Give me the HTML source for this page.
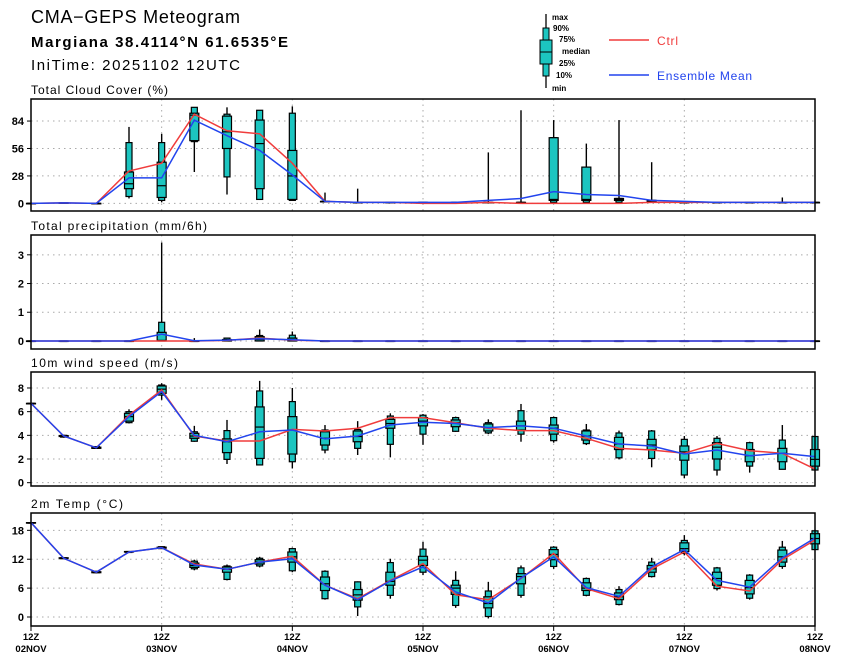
<!DOCTYPE html>
<html><head><meta charset="utf-8">
<style>
html,body{margin:0;padding:0;background:#fff;}
svg{display:block;font-family:"Liberation Sans",sans-serif;}
</style></head>
<body>
<svg id="chart" width="841" height="664" viewBox="0 0 841 664" xmlns="http://www.w3.org/2000/svg">
<text x="31" y="23" font-size="18" textLength="209" lengthAdjust="spacing">CMA−GEPS Meteogram</text>
<text x="31" y="47" font-size="15" font-weight="bold" textLength="257" lengthAdjust="spacing">Margiana 38.4114°N 61.6535°E</text>
<text x="31" y="70" font-size="15" textLength="209" lengthAdjust="spacing">IniTime: 20251102 12UTC</text>
<g>
  <line x1="546" y1="14" x2="546" y2="88" stroke="#000" stroke-width="1.3"/>
  <rect x="543" y="28" width="6" height="48" fill="#1cc5c0" stroke="#000"/>
  <rect x="540" y="40" width="12" height="24" fill="#1cc5c0" stroke="#000"/>
  <line x1="540" y1="52" x2="552" y2="52" stroke="#000"/>
  <g font-size="8" font-weight="bold">
    <text x="552" y="20">max</text><text x="553" y="31">90%</text><text x="559" y="42">75%</text>
    <text x="562" y="54">median</text><text x="559" y="66">25%</text><text x="556" y="78">10%</text><text x="552" y="91">min</text>
  </g>
  <line x1="609" y1="40" x2="649" y2="40" stroke="#f03c3c" stroke-width="1.5"/>
  <text x="657" y="45" font-size="12" fill="#f03c3c" textLength="21" lengthAdjust="spacing">Ctrl</text>
  <line x1="609" y1="75" x2="649" y2="75" stroke="#2244ee" stroke-width="1.5"/>
  <text x="657" y="80" font-size="12" fill="#2244ee" textLength="95" lengthAdjust="spacing">Ensemble Mean</text>
</g>
<g id="plots"></g>
</svg>
<script>
// ---- data (25 time steps, every 6h from 12Z 02NOV) ----
const timeLabels = ["12Z","12Z","12Z","12Z","12Z","12Z","12Z"];
const dateLabels = ["02NOV","03NOV","04NOV","05NOV","06NOV","07NOV","08NOV"];

const cloudMin = [0,0.5,0,5,1,32,9,4,3,2,1,1,1,1,1,1,1,1,1,1,1,1,1,1,1];
const cloudP10 = [0,0.5,0,7,3,63,27,4,3,2,1,1,1,1,1,1,1,1,1,1,1,1,1,1,1];
const cloudP25 = [0,0.5,0,15,6,64,56,15,4,2,1,1,1,1,1,1,3,3,3,2,1,1,1,1,1];
const cloudMed = [0,0.5,0,20,18,90,73,61,28,2,1,1,1,1,1,1,4,4,4,3,1,1,1,1,1];
const cloudP75 = [0,0.5,0,32,42,92,89,85,54,2,1,1,1,1,1,1,67,37,5,3,1,1,1,1,1];
const cloudP90 = [0,0.5,0,62,62,98,91,95,92,2,1,1,1,1,1,1,67,37,5,3,1,1,1,1,1];
const cloudMax = [0,0.5,0,78,71,98,98,95,99,11,15,1,1,1,52,95,85,61,85,42,1,1,1,6,1];
const cloudCtrl = [0,0.5,0,33,41,91,74,71,41,2,1,1,0,0,1,0,0,0,0,1,1,1,1,1,1];
const cloudMean = [0,0.5,0,26,26,85,69,54,29,2,1,1,1,1,3,5,12,9,8,3,2,1,1,1,1];

const precMin = [0,0,0,0,0,0,0,0,0,0,0,0,0,0,0,0,0,0,0,0,0,0,0,0,0];
const precP10 = [0,0,0,0,0,0,0,0,0,0,0,0,0,0,0,0,0,0,0,0,0,0,0,0,0];
const precP25 = [0,0,0,0,0,0,0,0,0,0,0,0,0,0,0,0,0,0,0,0,0,0,0,0,0];
const precMed = [0,0,0,0,0.02,0,0.02,0.05,0.02,0,0,0,0,0,0,0,0,0,0,0,0,0,0,0,0];
const precP75 = [0,0,0,0,0.3,0,0.05,0.15,0.1,0,0,0,0,0,0,0,0,0,0,0,0,0,0,0,0];
const precP90 = [0,0,0,0,0.65,0,0.1,0.19,0.2,0,0,0,0,0,0,0,0,0,0,0,0,0,0,0,0];
const precMax = [0,0,0,0,3.43,0.1,0.12,0.4,0.33,0,0,0,0,0,0,0,0,0,0,0,0,0,0,0,0];
const precCtrl = [0,0,0,0,0,0,0.02,0.1,0.03,0,0,0,0,0,0,0,0,0,0,0,0,0,0,0,0];
const precMean = [0,0,0,0,0.24,0.01,0.03,0.08,0.04,0,0,0,0,0,0,0,0,0,0,0,0,0,0,0,0];

const windMin = [6.7,3.8,2.85,5.0,7.0,3.46,1.58,1.5,1.2,2.48,2.34,2.14,3.2,4.3,4.1,3.46,3.38,3.18,1.97,1.3,0.37,0.6,0.85,1.13,1.07];
const windP10 = [6.7,3.85,2.9,5.07,7.4,3.5,1.97,1.5,1.77,2.76,2.9,3.24,4.1,4.34,4.2,4.1,3.55,3.3,2.1,2.05,0.65,1.07,1.4,1.13,1.07];
const windP25 = [6.7,3.9,2.9,5.2,7.55,3.75,2.54,2.05,2.42,3.18,3.46,4.6,4.8,4.73,4.37,4.45,4.1,3.6,2.8,2.8,1.9,2.0,1.77,1.77,1.4];
const windMed = [6.7,3.94,2.95,5.58,7.9,3.94,3.46,4.7,4.45,3.75,3.9,5.0,5.2,5.07,4.65,4.8,4.6,3.94,3.27,3.18,2.6,3.0,2.28,2.48,1.97];
const windP75 = [6.7,3.98,3.0,5.86,8.17,4.17,3.7,6.4,5.58,4.3,4.37,5.35,5.5,5.3,4.96,5.2,4.87,4.37,3.83,3.66,3.1,3.38,2.8,2.9,2.8];
const windP90 = [6.7,4.0,3.05,6.0,8.25,4.3,4.4,7.75,6.85,4.45,4.5,5.63,5.7,5.5,5.07,6.08,5.5,4.45,4.2,4.37,3.66,3.75,3.38,3.6,3.9];
const windMax = [6.7,4.05,3.05,6.2,8.4,4.8,5.3,8.6,8.0,4.87,5.2,5.86,5.8,5.58,5.35,6.65,5.58,4.96,4.4,4.45,3.94,3.94,3.46,4.87,3.9];
const windCtrl = [6.7,3.94,2.95,5.7,7.83,3.94,3.52,3.52,4.5,4.37,4.6,5.5,5.5,5.07,4.6,4.4,4.4,3.75,2.9,2.76,2.48,3.32,2.7,2.48,1.15];
const windMean = [6.7,3.94,2.95,5.58,7.7,4.0,3.46,4.3,4.45,3.7,3.94,4.87,5.1,5.0,4.65,4.8,4.6,3.94,3.27,3.1,2.42,2.76,2.28,2.48,2.2];

const tempMin = [19.6,12.1,9.1,13.4,14.2,9.7,7.6,10.3,9.3,3.6,0.2,3.8,8.7,1.9,-0.3,4.0,10.0,4.3,2.4,8.2,12.8,5.5,3.6,10.0,14.0];
const tempP10 = [19.6,12.1,9.2,13.4,14.2,10.0,7.8,10.6,9.6,3.8,2.1,4.5,9.3,2.4,0.1,4.5,10.5,4.5,2.6,8.4,13.2,5.9,3.9,10.5,14.0];
const tempP25 = [19.6,12.2,9.2,13.5,14.3,10.3,9.3,11.0,11.4,5.5,3.5,6.6,10.7,4.7,1.9,6.9,11.9,5.5,3.6,9.3,13.6,6.6,4.8,11.4,15.2];
const tempMed = [19.6,12.2,9.3,13.5,14.4,10.7,9.9,11.4,12.5,6.9,4.6,7.4,11.8,6.0,2.8,8.4,13.0,6.0,4.2,10.0,14.2,8.0,6.1,12.5,16.3];
const tempP75 = [19.6,12.3,9.4,13.6,14.5,11.2,10.4,11.9,13.5,8.3,5.7,9.3,12.6,6.6,4.2,9.0,14.0,7.1,5.0,10.7,15.4,9.3,7.6,13.9,17.3];
const tempP90 = [19.6,12.3,9.5,13.6,14.6,11.6,10.6,12.2,14.2,9.5,7.3,11.3,14.1,7.6,5.4,10.2,14.5,8.0,5.7,11.4,15.9,10.2,8.7,14.5,17.9];
const tempMax = [19.6,12.3,9.5,13.7,14.7,11.9,10.9,12.5,14.4,9.7,7.4,12.1,15.6,9.5,7.3,10.7,14.7,8.2,6.4,12.3,17.0,10.4,8.9,15.8,18.1];
const tempCtrl = [19.6,12.2,9.3,13.5,14.4,11.0,9.9,11.4,12.6,6.6,3.8,7.6,11.1,4.6,3.6,8.0,13.2,5.9,3.8,10.0,13.5,6.4,5.4,11.9,16.0];
const tempMean = [19.6,12.2,9.3,13.5,14.4,10.8,9.9,11.4,12.1,6.6,3.6,7.5,10.4,5.2,2.9,8.1,12.5,6.1,4.3,10.4,14.0,7.6,6.2,12.3,16.4];

const cloudTicks = [0,28,56,84];
const precTicks = [0,1,2,3];
const windTicks = [0,2,4,6,8];
const tempTicks = [0,6,12,18];

// ---- layout ----
const NS = "http://www.w3.org/2000/svg";
const X0 = 31, X1 = 815, NT = 24;
function xScale(i){ return X0 + (X1 - X0) * i / NT; }
function mk(tag, attrs, parent){
  const e = document.createElementNS(NS, tag);
  for (const k in attrs) e.setAttribute(k, attrs[k]);
  parent.appendChild(e);
  return e;
}
const root = document.getElementById('plots');

function panel(cfg){
  const g = mk('g', {}, root);
  
  
  const y = v => cfg.bottom - (v - cfg.vmin) / (cfg.vmax - cfg.vmin) * (cfg.bottom - cfg.top);
  const t = mk('text', {x: 31, y: cfg.top - 5, 'font-size': 12, textLength: cfg.titleW, lengthAdjust: 'spacing'}, g);
  t.textContent = cfg.title;
  
  
  cfg.ticks.forEach(v => {
    const yy = y(v);
    const gl = mk('line', {x1: X0, x2: X1, y1: yy, y2: yy, stroke: '#aaa', 'stroke-dasharray': '1.5,4', 'stroke-width': 1}, g);
    
    
    mk('line', {x1: X0 - 4, x2: X0, y1: yy, y2: yy, stroke: '#000'}, g);
    const lb = mk('text', {x: X0 - 7, y: yy + 4, 'font-size': 11, 'font-weight': 'bold', 'text-anchor': 'end'}, g);
    lb.textContent = v;
    
    
  });
  for (let d = 4; d < NT; d += 4) {
    const xx = xScale(d);
    mk('line', {x1: xx, x2: xx, y1: cfg.top, y2: cfg.bottom, stroke: '#aaa', 'stroke-dasharray': '1.5,4'}, g);
  }
  for (let i = 0; i <= NT; i++) {
    const xx = xScale(i);
    const bg = mk('g', {}, g);
    
    
    mk('line', {x1: xx, x2: xx, y1: y(cfg.max[i]), y2: y(cfg.min[i]), stroke: '#000', 'stroke-width': 1.4}, bg);
    mk('rect', {x: xx - 3, y: y(cfg.p90[i]), width: 6, height: Math.max(0.5, y(cfg.p10[i]) - y(cfg.p90[i])), fill: '#1cc5c0', stroke: '#000', 'stroke-width': 1.2}, bg);
    mk('rect', {x: xx - 4.5, y: y(cfg.p75[i]), width: 9, height: Math.max(0.5, y(cfg.p25[i]) - y(cfg.p75[i])), fill: '#1cc5c0', stroke: '#000', 'stroke-width': 1.2}, bg);
    mk('line', {x1: xx - 4.5, x2: xx + 4.5, y1: y(cfg.med[i]), y2: y(cfg.med[i]), stroke: '#000', 'stroke-width': 1.2}, bg);
  }
  const pts = arr => arr.map((v, i) => xScale(i).toFixed(1) + ',' + y(v).toFixed(1)).join(' ');
  const cl = mk('polyline', {points: pts(cfg.ctrl), fill: 'none', stroke: '#f03c3c', 'stroke-width': 1.5}, g);
  
  
  const ml = mk('polyline', {points: pts(cfg.mean), fill: 'none', stroke: '#2244ee', 'stroke-width': 1.5}, g);
  
  
  const fr = mk('rect', {x: X0, y: cfg.top, width: X1 - X0, height: cfg.bottom - cfg.top, fill: 'none', stroke: '#000', 'stroke-width': 1.5}, g);
  
  
}

panel({name: 'cloud-cover', title: 'Total Cloud Cover (%)', titleW: 137, top: 99, bottom: 211, vmin: -7.8, vmax: 106.5, ticks: cloudTicks,
  min: cloudMin, p10: cloudP10, p25: cloudP25, med: cloudMed, p75: cloudP75, p90: cloudP90, max: cloudMax, ctrl: cloudCtrl, mean: cloudMean});
panel({name: 'precipitation', title: 'Total precipitation (mm/6h)', titleW: 176, top: 235, bottom: 349, vmin: -0.28, vmax: 3.69, ticks: precTicks,
  min: precMin, p10: precP10, p25: precP25, med: precMed, p75: precP75, p90: precP90, max: precMax, ctrl: precCtrl, mean: precMean});
panel({name: 'wind-speed', title: '10m wind speed (m/s)', titleW: 147, top: 372, bottom: 486, vmin: -0.28, vmax: 9.35, ticks: windTicks,
  min: windMin, p10: windP10, p25: windP25, med: windMed, p75: windP75, p90: windP90, max: windMax, ctrl: windCtrl, mean: windMean});
panel({name: 'temperature', title: '2m Temp (°C)', titleW: 92, top: 513, bottom: 626, vmin: -1.87, vmax: 21.6, ticks: tempTicks,
  min: tempMin, p10: tempP10, p25: tempP25, med: tempMed, p75: tempP75, p90: tempP90, max: tempMax, ctrl: tempCtrl, mean: tempMean});

const xg = mk('g', {}, root);


dateLabels.forEach((d, k) => {
  const xx = xScale(k * 4);
  mk('line', {x1: xx, x2: xx, y1: 626, y2: 631, stroke: '#000'}, xg);
  const a = mk('text', {x: xx, y: 640, 'font-size': 9.5, 'font-weight': 'bold', 'text-anchor': 'middle'}, xg);
  a.textContent = timeLabels[k];
  
  
  const b = mk('text', {x: xx, y: 652, 'font-size': 9.5, 'font-weight': 'bold', 'text-anchor': 'middle'}, xg);
  b.textContent = d;
  
  
});
</script>
</body></html>
